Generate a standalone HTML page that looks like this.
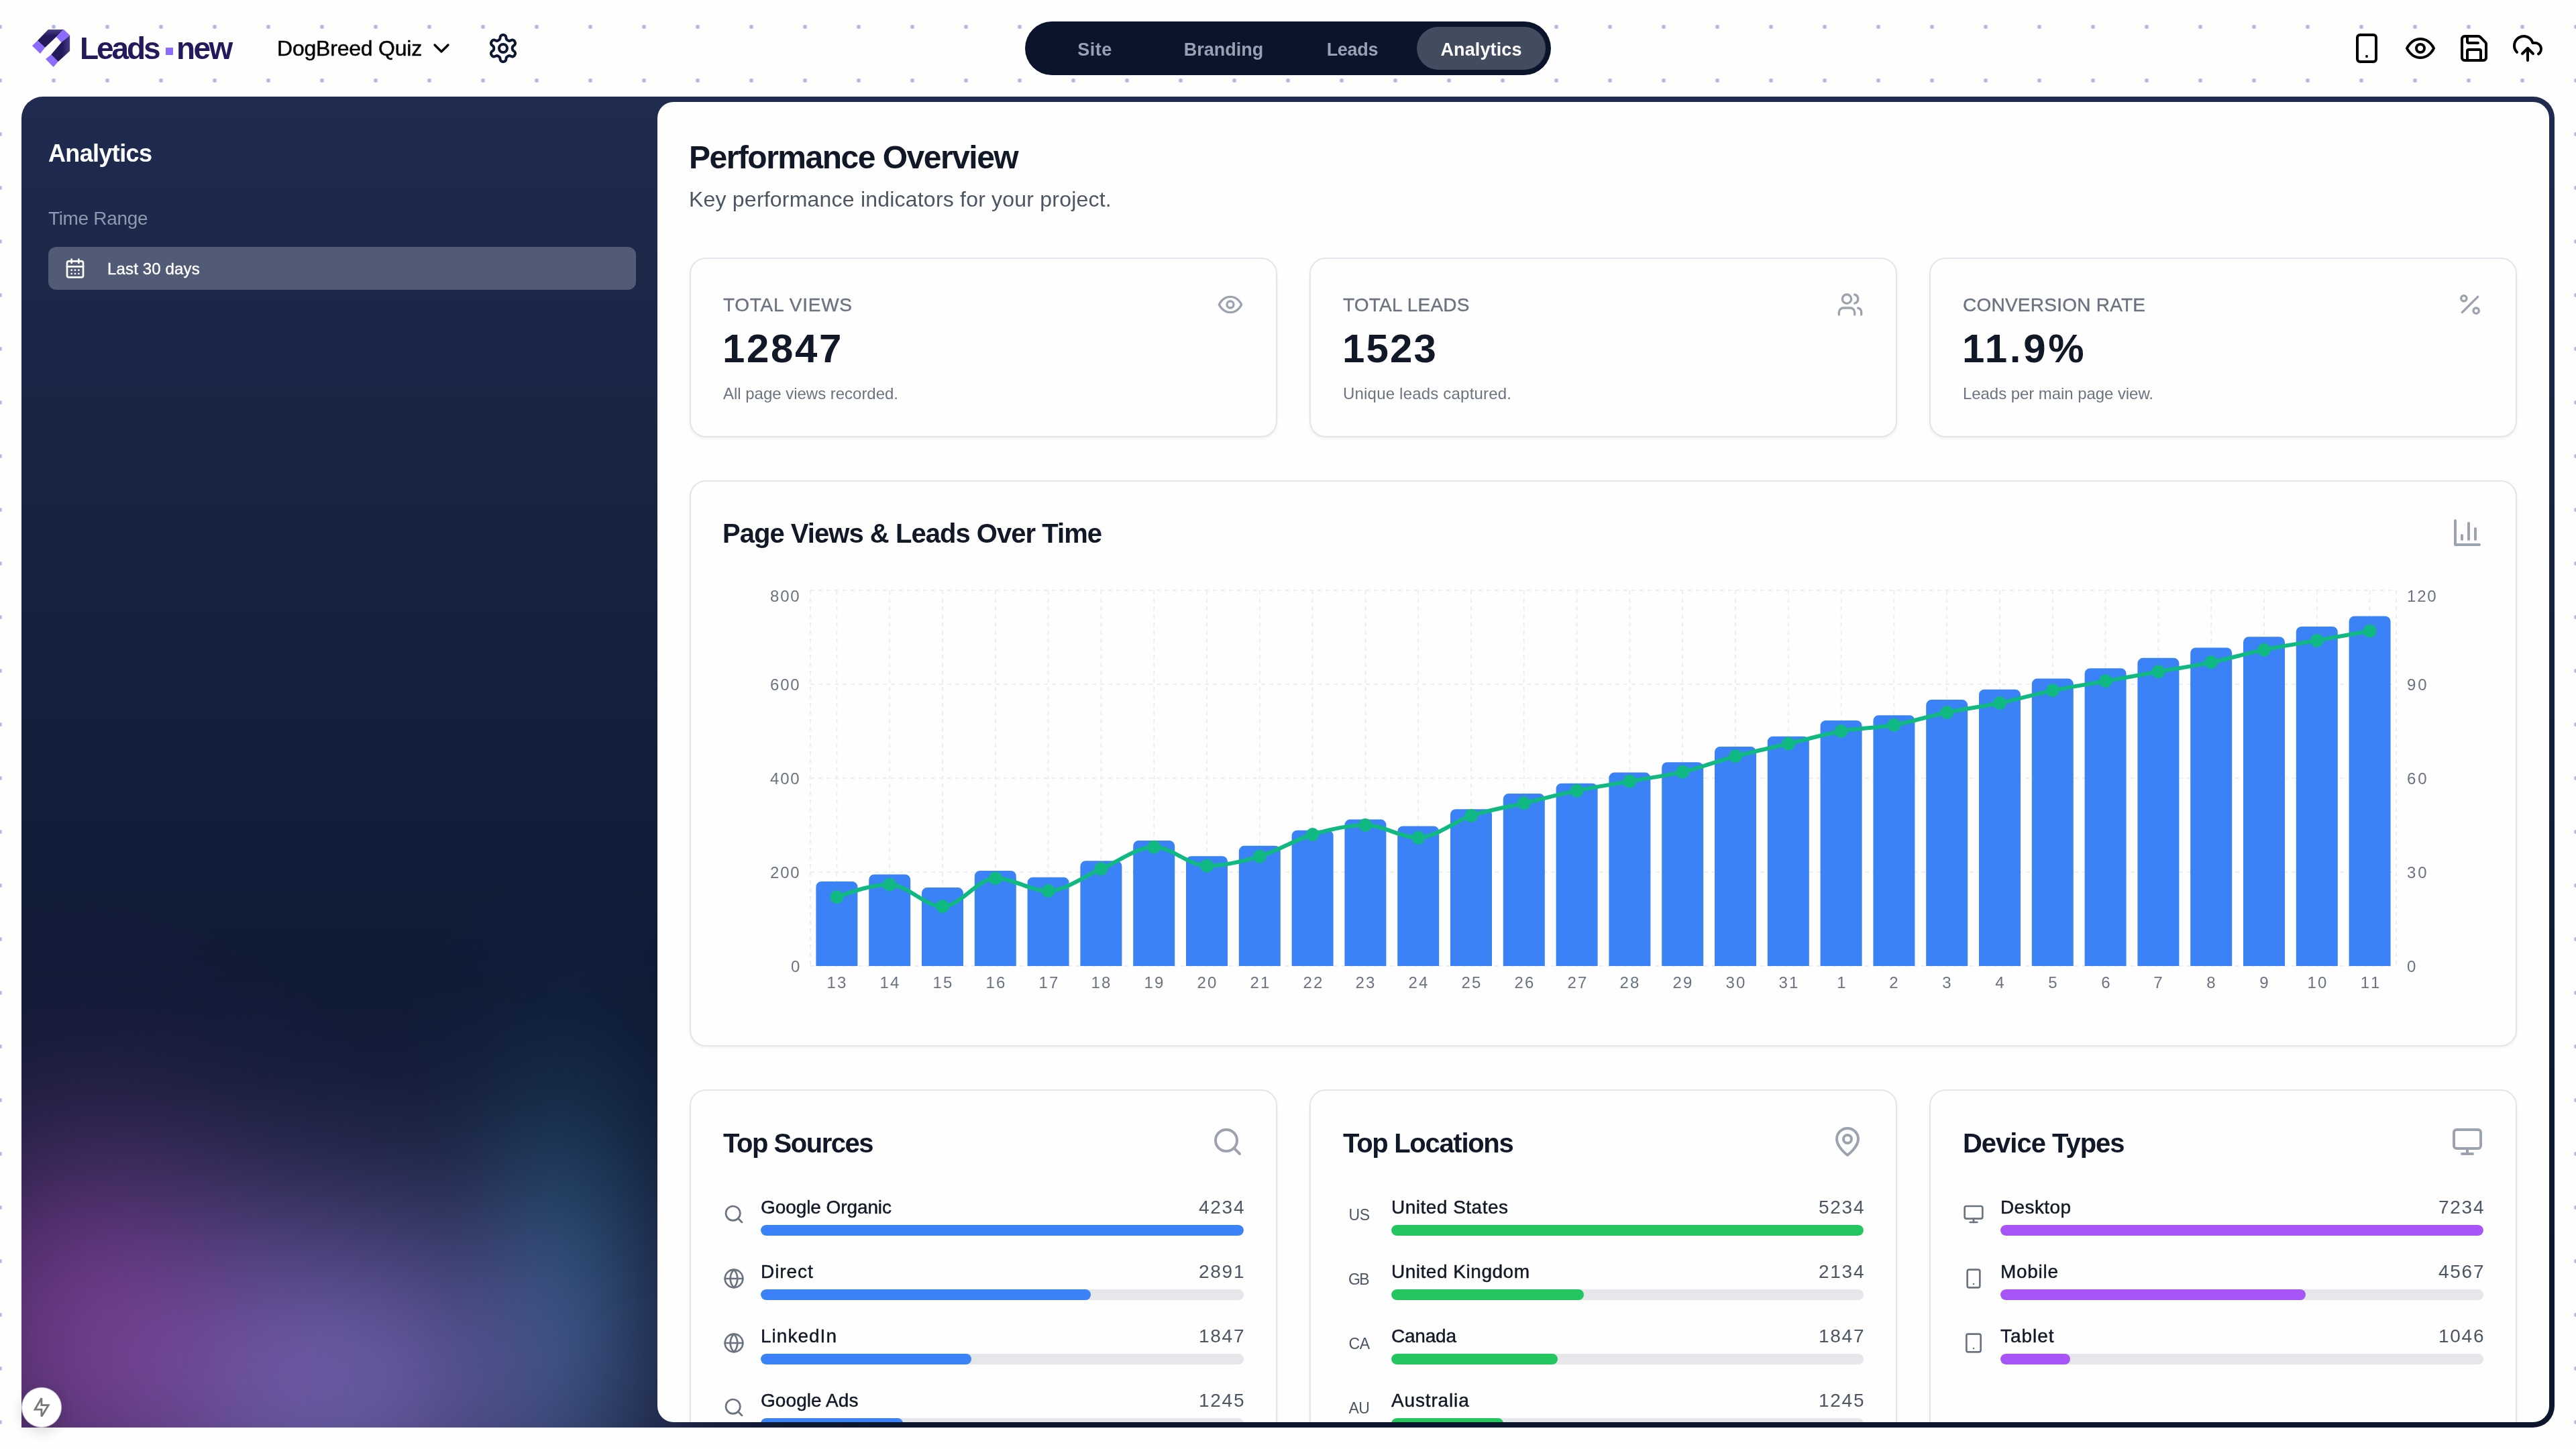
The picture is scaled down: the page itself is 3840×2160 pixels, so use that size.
<!DOCTYPE html>
<html lang="en"><head><meta charset="utf-8"><title>Leads.new – Analytics</title>
<style>
*{margin:0;padding:0;box-sizing:border-box}
html,body{width:3840px;height:2160px;overflow:hidden;background:#fefefe}
body{position:relative;font-family:"Liberation Sans", sans-serif;
 background-image:radial-gradient(circle at 50% 50%,#a9c0e4 0,#a9c0e4 2.5px,rgba(169,192,228,0) 3.5px);
 background-size:80px 80px;background-position:-40px 0}
.t{position:absolute;white-space:nowrap;will-change:transform}
.ic{position:absolute;display:block;overflow:visible}
.abs{position:absolute}
.card{position:absolute;background:#fefefe;border:2px solid #e3e5ea;border-radius:24px;box-shadow:0 2px 4px rgba(0,0,0,.05)}
.track{position:absolute;height:16px;border-radius:8px;background:#e5e7eb;overflow:hidden}
.fill{position:absolute;left:0;top:0;height:16px;border-radius:8px}
</style></head>
<body>
<svg class="ic" style="left:40px;top:36px;width:72px;height:72px" viewBox="40 36 72 72">
<defs><linearGradient id="lg1" x1="0" y1="0" x2="0" y2="1"><stop offset="0" stop-color="#4a3f86"/><stop offset=".35" stop-color="#231a5c"/></linearGradient>
<linearGradient id="lg2" x1="1" y1="0" x2="0" y2="0"><stop offset="0" stop-color="#4a3f86"/><stop offset=".4" stop-color="#231a5c"/></linearGradient></defs>
<polygon points="71.9,44 95,44 83.8,54.9 67,71 55.9,60.5" fill="url(#lg1)"/>
<polygon points="55.9,60.5 67,71 60,80.1 47.9,68.2" fill="#8b6cff"/>
<polygon points="95,44 104.1,52.4 91.5,63.3 83.8,54.9" fill="#8b6cff"/>
<polygon points="104.1,52.4 104.1,75.9 86.6,92 76.1,81.5 91.5,63.3" fill="url(#lg2)"/>
<polygon points="76.1,81.5 86.6,92 79.6,100.1 68,88.1" fill="#8b6cff"/>
</svg>
<div class="t" id="logo1" style="top:39.80px;font-size:46px;line-height:64px;font-weight:700;color:#231a5c;letter-spacing:-3.113px;left:119.00px;">Leads</div>
<div class="abs" style="left:247px;top:71px;width:11px;height:11px;background:#8b6cff"></div>
<div class="t" id="logo2" style="top:39.80px;font-size:46px;line-height:64px;font-weight:700;color:#231a5c;letter-spacing:-2.534px;left:263.00px;">new</div>
<div class="t" id="proj" style="top:50.20px;font-size:32px;line-height:45px;font-weight:400;color:#000;letter-spacing:-0.215px;left:412.50px;-webkit-text-stroke:.45px #000;">DogBreed Quiz</div>
<svg class="ic" style="left:638px;top:52px;width:40px;height:40px;color:#000" viewBox="0 0 24 24" fill="none" stroke="currentColor" stroke-width="2" stroke-linecap="round" stroke-linejoin="round"><path d="m6 9 6 6 6-6"/></svg>
<svg class="ic" style="left:726px;top:48px;width:48px;height:48px;color:#0c1732" viewBox="0 0 24 24" fill="none" stroke="currentColor" stroke-width="2" stroke-linecap="round" stroke-linejoin="round"><path d="M12.22 2h-.44a2 2 0 0 0-2 2v.18a2 2 0 0 1-1 1.73l-.43.25a2 2 0 0 1-2 0l-.15-.08a2 2 0 0 0-2.73.73l-.22.38a2 2 0 0 0 .73 2.73l.15.1a2 2 0 0 1 1 1.72v.51a2 2 0 0 1-1 1.74l-.15.09a2 2 0 0 0-.73 2.73l.22.38a2 2 0 0 0 2.73.73l.15-.08a2 2 0 0 1 2 0l.43.25a2 2 0 0 1 1 1.73V20a2 2 0 0 0 2 2h.44a2 2 0 0 0 2-2v-.18a2 2 0 0 1 1-1.73l.43-.25a2 2 0 0 1 2 0l.15.08a2 2 0 0 0 2.73-.73l.22-.39a2 2 0 0 0-.73-2.73l-.15-.08a2 2 0 0 1-1-1.74v-.5a2 2 0 0 1 1-1.74l.15-.09a2 2 0 0 0 .73-2.73l-.22-.38a2 2 0 0 0-2.73-.73l-.15.08a2 2 0 0 1-2 0l-.43-.25a2 2 0 0 1-1-1.73V4a2 2 0 0 0-2-2z"/><circle cx="12" cy="12" r="3"/></svg>
<div class="abs" style="left:1528px;top:32px;width:784px;height:80px;border-radius:40px;background:#0a152c"></div>
<div class="abs" style="left:2112px;top:40px;width:192px;height:64px;border-radius:32px;background:#434c5f"></div>
<div class="t" id="nav1" style="top:54.70px;font-size:27px;line-height:38px;font-weight:700;color:#98a1b2;letter-spacing:0.490px;left:1632.24px;transform:translateX(-50%);">Site</div>
<div class="t" id="nav2" style="top:54.70px;font-size:27px;line-height:38px;font-weight:700;color:#98a1b2;left:1824.00px;transform:translateX(-50%);">Branding</div>
<div class="t" id="nav3" style="top:54.70px;font-size:27px;line-height:38px;font-weight:700;color:#98a1b2;letter-spacing:-0.262px;left:2015.87px;transform:translateX(-50%);">Leads</div>
<div class="t" id="nav4" style="top:54.70px;font-size:27px;line-height:38px;font-weight:700;color:#ffffff;letter-spacing:0.117px;left:2208.06px;transform:translateX(-50%);">Analytics</div>
<svg class="ic" style="left:3504px;top:48px;width:48px;height:48px;color:#000" viewBox="0 0 24 24" fill="none" stroke="currentColor" stroke-width="2" stroke-linecap="round" stroke-linejoin="round"><rect width="14" height="20" x="5" y="2" rx="2" ry="2"/><path d="M12 18h.01"/></svg>
<svg class="ic" style="left:3584px;top:48px;width:48px;height:48px;color:#000" viewBox="0 0 24 24" fill="none" stroke="currentColor" stroke-width="2" stroke-linecap="round" stroke-linejoin="round"><path d="M2 12s3-7 10-7 10 7 10 7-3 7-10 7-10-7-10-7Z"/><circle cx="12" cy="12" r="3"/></svg>
<svg class="ic" style="left:3664px;top:48px;width:48px;height:48px;color:#000" viewBox="0 0 24 24" fill="none" stroke="currentColor" stroke-width="2" stroke-linecap="round" stroke-linejoin="round"><path d="M15.2 3a2 2 0 0 1 1.4.6l3.8 3.8a2 2 0 0 1 .6 1.4V19a2 2 0 0 1-2 2H5a2 2 0 0 1-2-2V5a2 2 0 0 1 2-2z"/><path d="M17 21v-7a1 1 0 0 0-1-1H8a1 1 0 0 0-1 1v7"/><path d="M7 3v4a1 1 0 0 0 1 1h7"/></svg>
<svg class="ic" style="left:3744px;top:48px;width:48px;height:48px;color:#000" viewBox="0 0 24 24" fill="none" stroke="currentColor" stroke-width="2" stroke-linecap="round" stroke-linejoin="round"><path d="M4 14.899A7 7 0 1 1 15.71 8h1.79a4.5 4.5 0 0 1 2.5 8.242"/><path d="M12 12v9"/><path d="m16 16-4-4-4 4"/></svg>
<div class="abs" id="frame" style="left:32px;top:144px;width:3776px;height:1984px;border-radius:32px 32px 32px 0;overflow:hidden;
background:
 radial-gradient(ellipse 564px 647px at 80px 1834px, rgba(220,80,219,0.357) 0.0%, rgba(220,80,219,0.346) 8.3%, rgba(220,80,219,0.315) 16.7%, rgba(220,80,219,0.269) 25.0%, rgba(220,80,219,0.216) 33.3%, rgba(220,80,219,0.163) 41.7%, rgba(220,80,219,0.116) 50.0%, rgba(220,80,219,0.077) 58.3%, rgba(220,80,219,0.048) 66.7%, rgba(220,80,219,0.028) 75.0%, rgba(220,80,219,0.016) 83.3%, rgba(220,80,219,0.008) 91.7%, rgba(220,80,219,0.000) 100.0%),
 radial-gradient(ellipse 834px 609px at 468px 1913px, rgba(164,138,240,0.568) 0.0%, rgba(164,138,240,0.551) 8.3%, rgba(164,138,240,0.502) 16.7%, rgba(164,138,240,0.429) 25.0%, rgba(164,138,240,0.345) 33.3%, rgba(164,138,240,0.260) 41.7%, rgba(164,138,240,0.185) 50.0%, rgba(164,138,240,0.123) 58.3%, rgba(164,138,240,0.077) 66.7%, rgba(164,138,240,0.045) 75.0%, rgba(164,138,240,0.025) 83.3%, rgba(164,138,240,0.013) 91.7%, rgba(164,138,240,0.000) 100.0%),
 radial-gradient(ellipse 300px 671px at 811px 1778px, rgba(23,60,89,1.000) 0.0%, rgba(23,60,89,0.969) 8.3%, rgba(23,60,89,0.882) 16.7%, rgba(23,60,89,0.755) 25.0%, rgba(23,60,89,0.607) 33.3%, rgba(23,60,89,0.458) 41.7%, rgba(23,60,89,0.325) 50.0%, rgba(23,60,89,0.216) 58.3%, rgba(23,60,89,0.135) 66.7%, rgba(23,60,89,0.080) 75.0%, rgba(23,60,89,0.044) 83.3%, rgba(23,60,89,0.023) 91.7%, rgba(23,60,89,0.000) 100.0%),
 linear-gradient(180deg,#1f2b4f 0%,#0f1a34 68.3%,#0c162d 100%)">
</div>
<div class="t" id="sb1" style="top:203.90px;font-size:36px;line-height:50px;font-weight:700;color:#ffffff;letter-spacing:-0.635px;left:72.00px;">Analytics</div>
<div class="t" id="sb2" style="top:305.60px;font-size:28px;line-height:39px;font-weight:400;color:#8f99ad;letter-spacing:-0.332px;left:72.00px;">Time Range</div>
<div class="abs" style="left:72px;top:368px;width:876px;height:64px;border-radius:12px;background:rgba(255,255,255,.24)"></div>
<svg class="ic" style="left:96px;top:384px;width:32px;height:32px;color:#ffffff" viewBox="0 0 24 24" fill="none" stroke="currentColor" stroke-width="2" stroke-linecap="round" stroke-linejoin="round"><path d="M8 2v4"/><path d="M16 2v4"/><rect width="18" height="18" x="3" y="4" rx="2"/><path d="M3 10h18"/><path d="M8 14h.01"/><path d="M12 14h.01"/><path d="M16 14h.01"/><path d="M8 18h.01"/><path d="M12 18h.01"/><path d="M16 18h.01"/></svg>
<div class="t" id="sb3" style="top:383.60px;font-size:24px;line-height:34px;font-weight:400;color:#ffffff;letter-spacing:0.146px;left:160.00px;-webkit-text-stroke:.4px #fff;">Last 30 days</div>
<div class="abs" style="left:33.3px;top:2069px;width:57.6px;height:57.6px;border-radius:50%;background:#fff;box-shadow:0 6px 20px rgba(0,0,0,.16),0 0 0 1px rgba(225,215,235,.9)"></div>
<svg class="ic" style="left:40px;top:2076px;width:44px;height:44px" viewBox="40 2076 44 44"><path d="M61.9 2084.3L52.05 2101.2H61.9V2111.5L72.2 2094.65H61.9Z" fill="none" stroke="#787878" stroke-width="2.8" stroke-linejoin="miter" stroke-miterlimit="3"/></svg>
<div class="abs" id="panel" style="left:980px;top:152px;width:2820px;height:1968px;border-radius:24px;background:#fefefe;overflow:hidden">
<div class="abs" style="left:-980px;top:-152px;width:3840px;height:2160px">
<div class="t" id="h1" style="top:200.60px;font-size:48px;line-height:67px;font-weight:700;color:#111827;letter-spacing:-1.503px;left:1026.50px;">Performance Overview</div>
<div class="t" id="h2" style="top:274.80px;font-size:32px;line-height:45px;font-weight:400;color:#4b5563;letter-spacing:0.209px;left:1027.00px;">Key performance indicators for your project.</div>
<div class="card" style="left:1028px;top:384px;width:876px;height:268px"></div>
<div class="t" id="k0a" style="top:434.90px;font-size:28px;line-height:39px;font-weight:400;color:#6b7280;letter-spacing:0.738px;left:1078.00px;-webkit-text-stroke:.4px #6b7280;">TOTAL VIEWS</div>
<div class="t" id="k0b" style="top:477.80px;font-size:60px;line-height:84px;font-weight:700;color:#111827;letter-spacing:2.660px;left:1077.00px;">12847</div>
<div class="t" id="k0c" style="top:569.50px;font-size:24px;line-height:34px;font-weight:400;color:#6b7280;letter-spacing:-0.020px;left:1078.00px;">All page views recorded.</div>
<svg class="ic" style="left:1814px;top:434px;width:40px;height:40px;color:#9ca3af" viewBox="0 0 24 24" fill="none" stroke="currentColor" stroke-width="2" stroke-linecap="round" stroke-linejoin="round"><path d="M2 12s3-7 10-7 10 7 10 7-3 7-10 7-10-7-10-7Z"/><circle cx="12" cy="12" r="3"/></svg>
<div class="card" style="left:1952px;top:384px;width:876px;height:268px"></div>
<div class="t" id="k1a" style="top:434.90px;font-size:28px;line-height:39px;font-weight:400;color:#6b7280;letter-spacing:0.218px;left:2002.00px;-webkit-text-stroke:.4px #6b7280;">TOTAL LEADS</div>
<div class="t" id="k1b" style="top:477.80px;font-size:60px;line-height:84px;font-weight:700;color:#111827;letter-spacing:2.172px;left:2001.00px;">1523</div>
<div class="t" id="k1c" style="top:569.50px;font-size:24px;line-height:34px;font-weight:400;color:#6b7280;letter-spacing:0.198px;left:2002.00px;">Unique leads captured.</div>
<svg class="ic" style="left:2738px;top:434px;width:40px;height:40px;color:#9ca3af" viewBox="0 0 24 24" fill="none" stroke="currentColor" stroke-width="2" stroke-linecap="round" stroke-linejoin="round"><path d="M16 21v-2a4 4 0 0 0-4-4H6a4 4 0 0 0-4 4v2"/><circle cx="9" cy="7" r="4"/><path d="M22 21v-2a4 4 0 0 0-3-3.87"/><path d="M16 3.13a4 4 0 0 1 0 7.75"/></svg>
<div class="card" style="left:2876px;top:384px;width:876px;height:268px"></div>
<div class="t" id="k2a" style="top:434.90px;font-size:28px;line-height:39px;font-weight:400;color:#6b7280;letter-spacing:0.241px;left:2926.00px;-webkit-text-stroke:.4px #6b7280;">CONVERSION RATE</div>
<div class="t" id="k2b" style="top:477.80px;font-size:60px;line-height:84px;font-weight:700;color:#111827;letter-spacing:3.693px;left:2925.00px;">11.9%</div>
<div class="t" id="k2c" style="top:569.50px;font-size:24px;line-height:34px;font-weight:400;color:#6b7280;letter-spacing:-0.063px;left:2926.00px;">Leads per main page view.</div>
<svg class="ic" style="left:3662px;top:434px;width:40px;height:40px;color:#9ca3af" viewBox="0 0 24 24" fill="none" stroke="currentColor" stroke-width="2" stroke-linecap="round" stroke-linejoin="round"><line x1="19" x2="5" y1="5" y2="19"/><circle cx="6.5" cy="6.5" r="2.5"/><circle cx="17.5" cy="17.5" r="2.5"/></svg>
<div class="card" style="left:1028px;top:716px;width:2724px;height:844px"></div>
<div class="t" id="ct" style="top:767.30px;font-size:40px;line-height:56px;font-weight:700;color:#111827;letter-spacing:-0.969px;left:1077.00px;">Page Views &amp; Leads Over Time</div>
<svg class="ic" style="left:3654px;top:770px;width:48px;height:48px;color:#9ca3af" viewBox="0 0 24 24" fill="none" stroke="currentColor" stroke-width="2" stroke-linecap="round" stroke-linejoin="round"><path d="M3 3v18h18"/><path d="M18 17V9"/><path d="M13 17V5"/><path d="M8 17v-3"/></svg>
<svg class="ic" style="left:1078px;top:870px;width:2624px;height:640px" viewBox="1078 870 2624 640"><path d="M1208 880H3572M1208 1020H3572M1208 1160H3572M1208 1300H3572M1208 1440H3572M1208.0 880V1440M1247.4 880V1440M1326.2 880V1440M1405.0 880V1440M1483.8 880V1440M1562.6 880V1440M1641.4 880V1440M1720.2 880V1440M1799.0 880V1440M1877.8 880V1440M1956.6 880V1440M2035.4 880V1440M2114.2 880V1440M2193.0 880V1440M2271.8 880V1440M2350.6 880V1440M2429.4 880V1440M2508.2 880V1440M2587.0 880V1440M2665.8 880V1440M2744.6 880V1440M2823.4 880V1440M2902.2 880V1440M2981.0 880V1440M3059.8 880V1440M3138.6 880V1440M3217.4 880V1440M3296.2 880V1440M3375.0 880V1440M3453.8 880V1440M3532.6 880V1440M3572.0 880V1440" fill="none" stroke="#eeeef0" stroke-width="2" stroke-dasharray="6 6"/><path d="M1216.4 1440V1322.0a8 8 0 0 1 8 -8h46.0a8 8 0 0 1 8 8V1440ZM1295.2 1440V1311.5a8 8 0 0 1 8 -8h46.0a8 8 0 0 1 8 8V1440ZM1374.0 1440V1331.1a8 8 0 0 1 8 -8h46.0a8 8 0 0 1 8 8V1440ZM1452.8 1440V1305.9a8 8 0 0 1 8 -8h46.0a8 8 0 0 1 8 8V1440ZM1531.6 1440V1315.7a8 8 0 0 1 8 -8h46.0a8 8 0 0 1 8 8V1440ZM1610.4 1440V1291.2a8 8 0 0 1 8 -8h46.0a8 8 0 0 1 8 8V1440ZM1689.2 1440V1261.1a8 8 0 0 1 8 -8h46.0a8 8 0 0 1 8 8V1440ZM1768.0 1440V1284.2a8 8 0 0 1 8 -8h46.0a8 8 0 0 1 8 8V1440ZM1846.8 1440V1268.8a8 8 0 0 1 8 -8h46.0a8 8 0 0 1 8 8V1440ZM1925.6 1440V1245.7a8 8 0 0 1 8 -8h46.0a8 8 0 0 1 8 8V1440ZM2004.4 1440V1229.6a8 8 0 0 1 8 -8h46.0a8 8 0 0 1 8 8V1440ZM2083.2 1440V1239.4a8 8 0 0 1 8 -8h46.0a8 8 0 0 1 8 8V1440ZM2162.0 1440V1214.2a8 8 0 0 1 8 -8h46.0a8 8 0 0 1 8 8V1440ZM2240.8 1440V1191.1a8 8 0 0 1 8 -8h46.0a8 8 0 0 1 8 8V1440ZM2319.6 1440V1175.7a8 8 0 0 1 8 -8h46.0a8 8 0 0 1 8 8V1440ZM2398.4 1440V1159.6a8 8 0 0 1 8 -8h46.0a8 8 0 0 1 8 8V1440ZM2477.2 1440V1144.2a8 8 0 0 1 8 -8h46.0a8 8 0 0 1 8 8V1440ZM2556.0 1440V1121.1a8 8 0 0 1 8 -8h46.0a8 8 0 0 1 8 8V1440ZM2634.8 1440V1105.7a8 8 0 0 1 8 -8h46.0a8 8 0 0 1 8 8V1440ZM2713.6 1440V1081.9a8 8 0 0 1 8 -8h46.0a8 8 0 0 1 8 8V1440ZM2792.4 1440V1074.2a8 8 0 0 1 8 -8h46.0a8 8 0 0 1 8 8V1440ZM2871.2 1440V1051.1a8 8 0 0 1 8 -8h46.0a8 8 0 0 1 8 8V1440ZM2950.0 1440V1035.7a8 8 0 0 1 8 -8h46.0a8 8 0 0 1 8 8V1440ZM3028.8 1440V1019.6a8 8 0 0 1 8 -8h46.0a8 8 0 0 1 8 8V1440ZM3107.6 1440V1004.2a8 8 0 0 1 8 -8h46.0a8 8 0 0 1 8 8V1440ZM3186.4 1440V988.8a8 8 0 0 1 8 -8h46.0a8 8 0 0 1 8 8V1440ZM3265.2 1440V973.4a8 8 0 0 1 8 -8h46.0a8 8 0 0 1 8 8V1440ZM3344.0 1440V957.3a8 8 0 0 1 8 -8h46.0a8 8 0 0 1 8 8V1440ZM3422.8 1440V941.9a8 8 0 0 1 8 -8h46.0a8 8 0 0 1 8 8V1440ZM3501.6 1440V926.5a8 8 0 0 1 8 -8h46.0a8 8 0 0 1 8 8V1440Z" fill="#3b82f6"/><path d="M1247.40 1337.33C1273.67 1328.00 1299.93 1318.67 1326.20 1318.67C1352.47 1318.67 1378.73 1351.33 1405.00 1351.33C1431.27 1351.33 1457.53 1309.33 1483.80 1309.33C1510.07 1309.33 1536.33 1328.00 1562.60 1328.00C1588.87 1328.00 1615.13 1306.22 1641.40 1295.33C1667.67 1284.44 1693.93 1262.67 1720.20 1262.67C1746.47 1262.67 1772.73 1290.67 1799.00 1290.67C1825.27 1290.67 1851.53 1284.44 1877.80 1276.67C1904.07 1268.89 1930.33 1251.78 1956.60 1244.00C1982.87 1236.22 2009.13 1230.00 2035.40 1230.00C2061.67 1230.00 2087.93 1248.67 2114.20 1248.67C2140.47 1248.67 2166.73 1224.56 2193.00 1216.00C2219.27 1207.44 2245.53 1203.56 2271.80 1197.33C2298.07 1191.11 2324.33 1184.11 2350.60 1178.67C2376.87 1173.22 2403.13 1169.33 2429.40 1164.67C2455.67 1160.00 2481.93 1156.89 2508.20 1150.67C2534.47 1144.44 2560.73 1134.33 2587.00 1127.33C2613.27 1120.33 2639.53 1114.89 2665.80 1108.67C2692.07 1102.44 2718.33 1094.67 2744.60 1090.00C2770.87 1085.33 2797.13 1085.33 2823.40 1080.67C2849.67 1076.00 2875.93 1067.44 2902.20 1062.00C2928.47 1056.56 2954.73 1053.44 2981.00 1048.00C3007.27 1042.56 3033.53 1034.78 3059.80 1029.33C3086.07 1023.89 3112.33 1020.00 3138.60 1015.33C3164.87 1010.67 3191.13 1006.00 3217.40 1001.33C3243.67 996.67 3269.93 992.78 3296.20 987.33C3322.47 981.89 3348.73 974.11 3375.00 968.67C3401.27 963.22 3427.53 959.33 3453.80 954.67C3480.07 950.00 3506.33 945.33 3532.60 940.67" fill="none" stroke="#10b981" stroke-width="6" stroke-linejoin="round" stroke-linecap="round"/><g fill="#10b981"><circle cx="1247.4" cy="1337.3" r="10"/><circle cx="1326.2" cy="1318.7" r="10"/><circle cx="1405.0" cy="1351.3" r="10"/><circle cx="1483.8" cy="1309.3" r="10"/><circle cx="1562.6" cy="1328.0" r="10"/><circle cx="1641.4" cy="1295.3" r="10"/><circle cx="1720.2" cy="1262.7" r="10"/><circle cx="1799.0" cy="1290.7" r="10"/><circle cx="1877.8" cy="1276.7" r="10"/><circle cx="1956.6" cy="1244.0" r="10"/><circle cx="2035.4" cy="1230.0" r="10"/><circle cx="2114.2" cy="1248.7" r="10"/><circle cx="2193.0" cy="1216.0" r="10"/><circle cx="2271.8" cy="1197.3" r="10"/><circle cx="2350.6" cy="1178.7" r="10"/><circle cx="2429.4" cy="1164.7" r="10"/><circle cx="2508.2" cy="1150.7" r="10"/><circle cx="2587.0" cy="1127.3" r="10"/><circle cx="2665.8" cy="1108.7" r="10"/><circle cx="2744.6" cy="1090.0" r="10"/><circle cx="2823.4" cy="1080.7" r="10"/><circle cx="2902.2" cy="1062.0" r="10"/><circle cx="2981.0" cy="1048.0" r="10"/><circle cx="3059.8" cy="1029.3" r="10"/><circle cx="3138.6" cy="1015.3" r="10"/><circle cx="3217.4" cy="1001.3" r="10"/><circle cx="3296.2" cy="987.3" r="10"/><circle cx="3375.0" cy="968.7" r="10"/><circle cx="3453.8" cy="954.7" r="10"/><circle cx="3532.6" cy="940.7" r="10"/></g></svg>
<div class="t" id="x0" style="top:1448.00px;font-size:24px;line-height:34px;font-weight:400;color:#6b7280;letter-spacing:2.097px;left:1248.45px;transform:translateX(-50%);">13</div>
<div class="t" id="x1" style="top:1448.00px;font-size:24px;line-height:34px;font-weight:400;color:#6b7280;letter-spacing:2.097px;left:1327.25px;transform:translateX(-50%);">14</div>
<div class="t" id="x2" style="top:1448.00px;font-size:24px;line-height:34px;font-weight:400;color:#6b7280;letter-spacing:2.097px;left:1406.05px;transform:translateX(-50%);">15</div>
<div class="t" id="x3" style="top:1448.00px;font-size:24px;line-height:34px;font-weight:400;color:#6b7280;letter-spacing:2.097px;left:1484.85px;transform:translateX(-50%);">16</div>
<div class="t" id="x4" style="top:1448.00px;font-size:24px;line-height:34px;font-weight:400;color:#6b7280;letter-spacing:2.097px;left:1563.65px;transform:translateX(-50%);">17</div>
<div class="t" id="x5" style="top:1448.00px;font-size:24px;line-height:34px;font-weight:400;color:#6b7280;letter-spacing:2.097px;left:1642.45px;transform:translateX(-50%);">18</div>
<div class="t" id="x6" style="top:1448.00px;font-size:24px;line-height:34px;font-weight:400;color:#6b7280;letter-spacing:2.097px;left:1721.25px;transform:translateX(-50%);">19</div>
<div class="t" id="x7" style="top:1448.00px;font-size:24px;line-height:34px;font-weight:400;color:#6b7280;letter-spacing:2.097px;left:1800.05px;transform:translateX(-50%);">20</div>
<div class="t" id="x8" style="top:1448.00px;font-size:24px;line-height:34px;font-weight:400;color:#6b7280;letter-spacing:2.097px;left:1878.85px;transform:translateX(-50%);">21</div>
<div class="t" id="x9" style="top:1448.00px;font-size:24px;line-height:34px;font-weight:400;color:#6b7280;letter-spacing:2.097px;left:1957.65px;transform:translateX(-50%);">22</div>
<div class="t" id="x10" style="top:1448.00px;font-size:24px;line-height:34px;font-weight:400;color:#6b7280;letter-spacing:2.097px;left:2036.45px;transform:translateX(-50%);">23</div>
<div class="t" id="x11" style="top:1448.00px;font-size:24px;line-height:34px;font-weight:400;color:#6b7280;letter-spacing:2.097px;left:2115.25px;transform:translateX(-50%);">24</div>
<div class="t" id="x12" style="top:1448.00px;font-size:24px;line-height:34px;font-weight:400;color:#6b7280;letter-spacing:2.097px;left:2194.05px;transform:translateX(-50%);">25</div>
<div class="t" id="x13" style="top:1448.00px;font-size:24px;line-height:34px;font-weight:400;color:#6b7280;letter-spacing:2.097px;left:2272.85px;transform:translateX(-50%);">26</div>
<div class="t" id="x14" style="top:1448.00px;font-size:24px;line-height:34px;font-weight:400;color:#6b7280;letter-spacing:2.097px;left:2351.65px;transform:translateX(-50%);">27</div>
<div class="t" id="x15" style="top:1448.00px;font-size:24px;line-height:34px;font-weight:400;color:#6b7280;letter-spacing:2.097px;left:2430.45px;transform:translateX(-50%);">28</div>
<div class="t" id="x16" style="top:1448.00px;font-size:24px;line-height:34px;font-weight:400;color:#6b7280;letter-spacing:2.097px;left:2509.25px;transform:translateX(-50%);">29</div>
<div class="t" id="x17" style="top:1448.00px;font-size:24px;line-height:34px;font-weight:400;color:#6b7280;letter-spacing:2.097px;left:2588.05px;transform:translateX(-50%);">30</div>
<div class="t" id="x18" style="top:1448.00px;font-size:24px;line-height:34px;font-weight:400;color:#6b7280;letter-spacing:2.097px;left:2666.85px;transform:translateX(-50%);">31</div>
<div class="t" id="x19" style="top:1448.00px;font-size:24px;line-height:34px;font-weight:400;color:#6b7280;left:2744.60px;transform:translateX(-50%);">1</div>
<div class="t" id="x20" style="top:1448.00px;font-size:24px;line-height:34px;font-weight:400;color:#6b7280;left:2823.40px;transform:translateX(-50%);">2</div>
<div class="t" id="x21" style="top:1448.00px;font-size:24px;line-height:34px;font-weight:400;color:#6b7280;left:2902.20px;transform:translateX(-50%);">3</div>
<div class="t" id="x22" style="top:1448.00px;font-size:24px;line-height:34px;font-weight:400;color:#6b7280;left:2981.00px;transform:translateX(-50%);">4</div>
<div class="t" id="x23" style="top:1448.00px;font-size:24px;line-height:34px;font-weight:400;color:#6b7280;left:3059.80px;transform:translateX(-50%);">5</div>
<div class="t" id="x24" style="top:1448.00px;font-size:24px;line-height:34px;font-weight:400;color:#6b7280;left:3138.60px;transform:translateX(-50%);">6</div>
<div class="t" id="x25" style="top:1448.00px;font-size:24px;line-height:34px;font-weight:400;color:#6b7280;left:3217.40px;transform:translateX(-50%);">7</div>
<div class="t" id="x26" style="top:1448.00px;font-size:24px;line-height:34px;font-weight:400;color:#6b7280;left:3296.20px;transform:translateX(-50%);">8</div>
<div class="t" id="x27" style="top:1448.00px;font-size:24px;line-height:34px;font-weight:400;color:#6b7280;left:3375.00px;transform:translateX(-50%);">9</div>
<div class="t" id="x28" style="top:1448.00px;font-size:24px;line-height:34px;font-weight:400;color:#6b7280;letter-spacing:2.097px;left:3454.85px;transform:translateX(-50%);">10</div>
<div class="t" id="x29" style="top:1448.00px;font-size:24px;line-height:34px;font-weight:400;color:#6b7280;letter-spacing:3.878px;left:3534.54px;transform:translateX(-50%);">11</div>
<div class="t" id="yl0" style="top:1423.50px;font-size:24px;line-height:34px;font-weight:400;color:#6b7280;right:2648.00px;">0</div>
<div class="t" id="yl200" style="top:1283.50px;font-size:24px;line-height:34px;font-weight:400;color:#6b7280;letter-spacing:1.827px;right:2646.17px;">200</div>
<div class="t" id="yl400" style="top:1143.50px;font-size:24px;line-height:34px;font-weight:400;color:#6b7280;letter-spacing:1.827px;right:2646.17px;">400</div>
<div class="t" id="yl600" style="top:1003.50px;font-size:24px;line-height:34px;font-weight:400;color:#6b7280;letter-spacing:1.827px;right:2646.17px;">600</div>
<div class="t" id="yl800" style="top:871.50px;font-size:24px;line-height:34px;font-weight:400;color:#6b7280;letter-spacing:1.827px;right:2646.17px;">800</div>
<div class="t" id="yr0" style="top:1423.50px;font-size:24px;line-height:34px;font-weight:400;color:#6b7280;left:3588.00px;">0</div>
<div class="t" id="yr30" style="top:1283.50px;font-size:24px;line-height:34px;font-weight:400;color:#6b7280;letter-spacing:2.797px;left:3588.00px;">30</div>
<div class="t" id="yr60" style="top:1143.50px;font-size:24px;line-height:34px;font-weight:400;color:#6b7280;letter-spacing:2.797px;left:3588.00px;">60</div>
<div class="t" id="yr90" style="top:1003.50px;font-size:24px;line-height:34px;font-weight:400;color:#6b7280;letter-spacing:2.797px;left:3588.00px;">90</div>
<div class="t" id="yr120" style="top:871.50px;font-size:24px;line-height:34px;font-weight:400;color:#6b7280;letter-spacing:1.827px;left:3588.00px;">120</div>
<div class="card" style="left:1028px;top:1624px;width:876px;height:700px"></div>
<div class="t" id="st" style="top:1675.50px;font-size:40px;line-height:56px;font-weight:700;color:#111827;letter-spacing:-1.480px;left:1078.00px;">Top Sources</div>
<svg class="ic" style="left:1806px;top:1678px;width:48px;height:48px;color:#9ca3af" viewBox="0 0 24 24" fill="none" stroke="currentColor" stroke-width="2" stroke-linecap="round" stroke-linejoin="round"><circle cx="11" cy="11" r="8"/><path d="m21 21-4.3-4.3"/></svg>
<svg class="ic" style="left:1078px;top:1794px;width:32px;height:32px;color:#6b7280" viewBox="0 0 24 24" fill="none" stroke="currentColor" stroke-width="2" stroke-linecap="round" stroke-linejoin="round"><circle cx="11" cy="11" r="8"/><path d="m21 21-4.3-4.3"/></svg>
<div class="t" id="sl0" style="top:1779.50px;font-size:28px;line-height:39px;font-weight:400;color:#111827;letter-spacing:-0.085px;left:1134.00px;-webkit-text-stroke:.45px #111827;">Google Organic</div>
<div class="t" id="sv0" style="top:1779.50px;font-size:28px;line-height:39px;font-weight:400;color:#4b5563;letter-spacing:1.734px;right:1984.27px;">4234</div>
<div class="track" style="left:1134px;top:1826px;width:720px"><div class="fill" style="width:100.00%;background:#3b82f6"></div></div>
<svg class="ic" style="left:1078px;top:1890px;width:32px;height:32px;color:#6b7280" viewBox="0 0 24 24" fill="none" stroke="currentColor" stroke-width="2" stroke-linecap="round" stroke-linejoin="round"><circle cx="12" cy="12" r="10"/><path d="M12 2a14.5 14.5 0 0 0 0 20 14.5 14.5 0 0 0 0-20"/><path d="M2 12h20"/></svg>
<div class="t" id="sl1" style="top:1875.50px;font-size:28px;line-height:39px;font-weight:400;color:#111827;letter-spacing:0.915px;left:1134.00px;-webkit-text-stroke:.45px #111827;">Direct</div>
<div class="t" id="sv1" style="top:1875.50px;font-size:28px;line-height:39px;font-weight:400;color:#4b5563;letter-spacing:1.734px;right:1984.27px;">2891</div>
<div class="track" style="left:1134px;top:1922px;width:720px"><div class="fill" style="width:68.28%;background:#3b82f6"></div></div>
<svg class="ic" style="left:1078px;top:1986px;width:32px;height:32px;color:#6b7280" viewBox="0 0 24 24" fill="none" stroke="currentColor" stroke-width="2" stroke-linecap="round" stroke-linejoin="round"><circle cx="12" cy="12" r="10"/><path d="M12 2a14.5 14.5 0 0 0 0 20 14.5 14.5 0 0 0 0-20"/><path d="M2 12h20"/></svg>
<div class="t" id="sl2" style="top:1971.50px;font-size:28px;line-height:39px;font-weight:400;color:#111827;letter-spacing:1.018px;left:1134.00px;-webkit-text-stroke:.45px #111827;">LinkedIn</div>
<div class="t" id="sv2" style="top:1971.50px;font-size:28px;line-height:39px;font-weight:400;color:#4b5563;letter-spacing:1.734px;right:1984.27px;">1847</div>
<div class="track" style="left:1134px;top:2018px;width:720px"><div class="fill" style="width:43.62%;background:#3b82f6"></div></div>
<svg class="ic" style="left:1078px;top:2082px;width:32px;height:32px;color:#6b7280" viewBox="0 0 24 24" fill="none" stroke="currentColor" stroke-width="2" stroke-linecap="round" stroke-linejoin="round"><circle cx="11" cy="11" r="8"/><path d="m21 21-4.3-4.3"/></svg>
<div class="t" id="sl3" style="top:2067.50px;font-size:28px;line-height:39px;font-weight:400;color:#111827;letter-spacing:0.080px;left:1134.00px;-webkit-text-stroke:.45px #111827;">Google Ads</div>
<div class="t" id="sv3" style="top:2067.50px;font-size:28px;line-height:39px;font-weight:400;color:#4b5563;letter-spacing:1.734px;right:1984.27px;">1245</div>
<div class="track" style="left:1134px;top:2114px;width:720px"><div class="fill" style="width:29.40%;background:#3b82f6"></div></div>
<svg class="ic" style="left:1078px;top:2178px;width:32px;height:32px;color:#6b7280" viewBox="0 0 24 24" fill="none" stroke="currentColor" stroke-width="2" stroke-linecap="round" stroke-linejoin="round"><circle cx="12" cy="12" r="10"/><path d="M12 2a14.5 14.5 0 0 0 0 20 14.5 14.5 0 0 0 0-20"/><path d="M2 12h20"/></svg>
<div class="t" id="sl4" style="top:2163.50px;font-size:28px;line-height:39px;font-weight:400;color:#111827;letter-spacing:-0.424px;left:1134.00px;-webkit-text-stroke:.45px #111827;">Facebook</div>
<div class="t" id="sv4" style="top:2163.50px;font-size:28px;line-height:39px;font-weight:400;color:#4b5563;letter-spacing:2.141px;right:1983.86px;">892</div>
<div class="track" style="left:1134px;top:2210px;width:720px"><div class="fill" style="width:21.07%;background:#3b82f6"></div></div>
<div class="card" style="left:1952px;top:1624px;width:876px;height:700px"></div>
<div class="t" id="lt" style="top:1675.50px;font-size:40px;line-height:56px;font-weight:700;color:#111827;letter-spacing:-1.305px;left:2002.00px;">Top Locations</div>
<svg class="ic" style="left:2730px;top:1678px;width:48px;height:48px;color:#9ca3af" viewBox="0 0 24 24" fill="none" stroke="currentColor" stroke-width="2" stroke-linecap="round" stroke-linejoin="round"><path d="M20 10c0 6-8 12-8 12s-8-6-8-12a8 8 0 0 1 16 0Z"/><circle cx="12" cy="10" r="3"/></svg>
<div class="t" id="lc0" style="top:1794.50px;font-size:23px;line-height:32px;font-weight:400;color:#4b5563;letter-spacing:-0.453px;left:2025.77px;transform:translateX(-50%);">US</div>
<div class="t" id="ll0" style="top:1779.50px;font-size:28px;line-height:39px;font-weight:400;color:#111827;letter-spacing:0.491px;left:2074.00px;-webkit-text-stroke:.45px #111827;">United States</div>
<div class="t" id="lv0" style="top:1779.50px;font-size:28px;line-height:39px;font-weight:400;color:#4b5563;letter-spacing:1.734px;right:1060.27px;">5234</div>
<div class="track" style="left:2074px;top:1826px;width:704px"><div class="fill" style="width:100.00%;background:#22c55e"></div></div>
<div class="t" id="lc1" style="top:1890.50px;font-size:23px;line-height:32px;font-weight:400;color:#4b5563;letter-spacing:-1.734px;left:2025.13px;transform:translateX(-50%);">GB</div>
<div class="t" id="ll1" style="top:1875.50px;font-size:28px;line-height:39px;font-weight:400;color:#111827;letter-spacing:0.520px;left:2074.00px;-webkit-text-stroke:.45px #111827;">United Kingdom</div>
<div class="t" id="lv1" style="top:1875.50px;font-size:28px;line-height:39px;font-weight:400;color:#4b5563;letter-spacing:1.734px;right:1060.27px;">2134</div>
<div class="track" style="left:2074px;top:1922px;width:704px"><div class="fill" style="width:40.77%;background:#22c55e"></div></div>
<div class="t" id="lc2" style="top:1986.50px;font-size:23px;line-height:32px;font-weight:400;color:#4b5563;letter-spacing:-0.453px;left:2025.77px;transform:translateX(-50%);">CA</div>
<div class="t" id="ll2" style="top:1971.50px;font-size:28px;line-height:39px;font-weight:400;color:#111827;letter-spacing:-0.219px;left:2074.00px;-webkit-text-stroke:.45px #111827;">Canada</div>
<div class="t" id="lv2" style="top:1971.50px;font-size:28px;line-height:39px;font-weight:400;color:#4b5563;letter-spacing:1.734px;right:1060.27px;">1847</div>
<div class="track" style="left:2074px;top:2018px;width:704px"><div class="fill" style="width:35.29%;background:#22c55e"></div></div>
<div class="t" id="lc3" style="top:2082.50px;font-size:23px;line-height:32px;font-weight:400;color:#4b5563;letter-spacing:-0.453px;left:2025.77px;transform:translateX(-50%);">AU</div>
<div class="t" id="ll3" style="top:2067.50px;font-size:28px;line-height:39px;font-weight:400;color:#111827;letter-spacing:0.845px;left:2074.00px;-webkit-text-stroke:.45px #111827;">Australia</div>
<div class="t" id="lv3" style="top:2067.50px;font-size:28px;line-height:39px;font-weight:400;color:#4b5563;letter-spacing:1.734px;right:1060.27px;">1245</div>
<div class="track" style="left:2074px;top:2114px;width:704px"><div class="fill" style="width:23.79%;background:#22c55e"></div></div>
<div class="t" id="lc4" style="top:2178.50px;font-size:23px;line-height:32px;font-weight:400;color:#4b5563;letter-spacing:-0.453px;left:2025.77px;transform:translateX(-50%);">DE</div>
<div class="t" id="ll4" style="top:2163.50px;font-size:28px;line-height:39px;font-weight:400;color:#111827;letter-spacing:-0.526px;left:2074.00px;-webkit-text-stroke:.45px #111827;">Germany</div>
<div class="t" id="lv4" style="top:2163.50px;font-size:28px;line-height:39px;font-weight:400;color:#4b5563;letter-spacing:2.141px;right:1059.86px;">892</div>
<div class="track" style="left:2074px;top:2210px;width:704px"><div class="fill" style="width:17.04%;background:#22c55e"></div></div>
<div class="card" style="left:2876px;top:1624px;width:876px;height:700px"></div>
<div class="t" id="dt" style="top:1675.50px;font-size:40px;line-height:56px;font-weight:700;color:#111827;letter-spacing:-1.012px;left:2926.00px;">Device Types</div>
<svg class="ic" style="left:3654px;top:1678px;width:48px;height:48px;color:#9ca3af" viewBox="0 0 24 24" fill="none" stroke="currentColor" stroke-width="2" stroke-linecap="round" stroke-linejoin="round"><rect width="20" height="14" x="2" y="3" rx="2"/><line x1="8" x2="16" y1="21" y2="21"/><line x1="12" x2="12" y1="17" y2="21"/></svg>
<svg class="ic" style="left:2926px;top:1794px;width:32px;height:32px;color:#6b7280" viewBox="0 0 24 24" fill="none" stroke="currentColor" stroke-width="2" stroke-linecap="round" stroke-linejoin="round"><rect width="20" height="14" x="2" y="3" rx="2"/><line x1="8" x2="16" y1="21" y2="21"/><line x1="12" x2="12" y1="17" y2="21"/></svg>
<div class="t" id="dl0" style="top:1779.50px;font-size:28px;line-height:39px;font-weight:400;color:#111827;letter-spacing:0.380px;left:2982.00px;-webkit-text-stroke:.45px #111827;">Desktop</div>
<div class="t" id="dv0" style="top:1779.50px;font-size:28px;line-height:39px;font-weight:400;color:#4b5563;letter-spacing:1.734px;right:136.27px;">7234</div>
<div class="track" style="left:2982px;top:1826px;width:720px"><div class="fill" style="width:100.00%;background:#a855f7"></div></div>
<svg class="ic" style="left:2926px;top:1890px;width:32px;height:32px;color:#6b7280" viewBox="0 0 24 24" fill="none" stroke="currentColor" stroke-width="2" stroke-linecap="round" stroke-linejoin="round"><rect width="14" height="20" x="5" y="2" rx="2" ry="2"/><path d="M12 18h.01"/></svg>
<div class="t" id="dl1" style="top:1875.50px;font-size:28px;line-height:39px;font-weight:400;color:#111827;letter-spacing:0.703px;left:2982.00px;-webkit-text-stroke:.45px #111827;">Mobile</div>
<div class="t" id="dv1" style="top:1875.50px;font-size:28px;line-height:39px;font-weight:400;color:#4b5563;letter-spacing:1.734px;right:136.27px;">4567</div>
<div class="track" style="left:2982px;top:1922px;width:720px"><div class="fill" style="width:63.13%;background:#a855f7"></div></div>
<svg class="ic" style="left:2926px;top:1986px;width:32px;height:32px;color:#6b7280" viewBox="0 0 24 24" fill="none" stroke="currentColor" stroke-width="2" stroke-linecap="round" stroke-linejoin="round"><rect width="16" height="20" x="4" y="2" rx="2" ry="2"/><path d="M12 18h.01"/></svg>
<div class="t" id="dl2" style="top:1971.50px;font-size:28px;line-height:39px;font-weight:400;color:#111827;letter-spacing:0.956px;left:2982.00px;-webkit-text-stroke:.45px #111827;">Tablet</div>
<div class="t" id="dv2" style="top:1971.50px;font-size:28px;line-height:39px;font-weight:400;color:#4b5563;letter-spacing:1.734px;right:136.27px;">1046</div>
<div class="track" style="left:2982px;top:2018px;width:720px"><div class="fill" style="width:14.46%;background:#a855f7"></div></div>
</div></div>
<script>(function(){var w=window.innerWidth||3840;if(Math.abs(w-3840)>1){document.documentElement.style.zoom=w/3840}})();</script>
</body></html>
